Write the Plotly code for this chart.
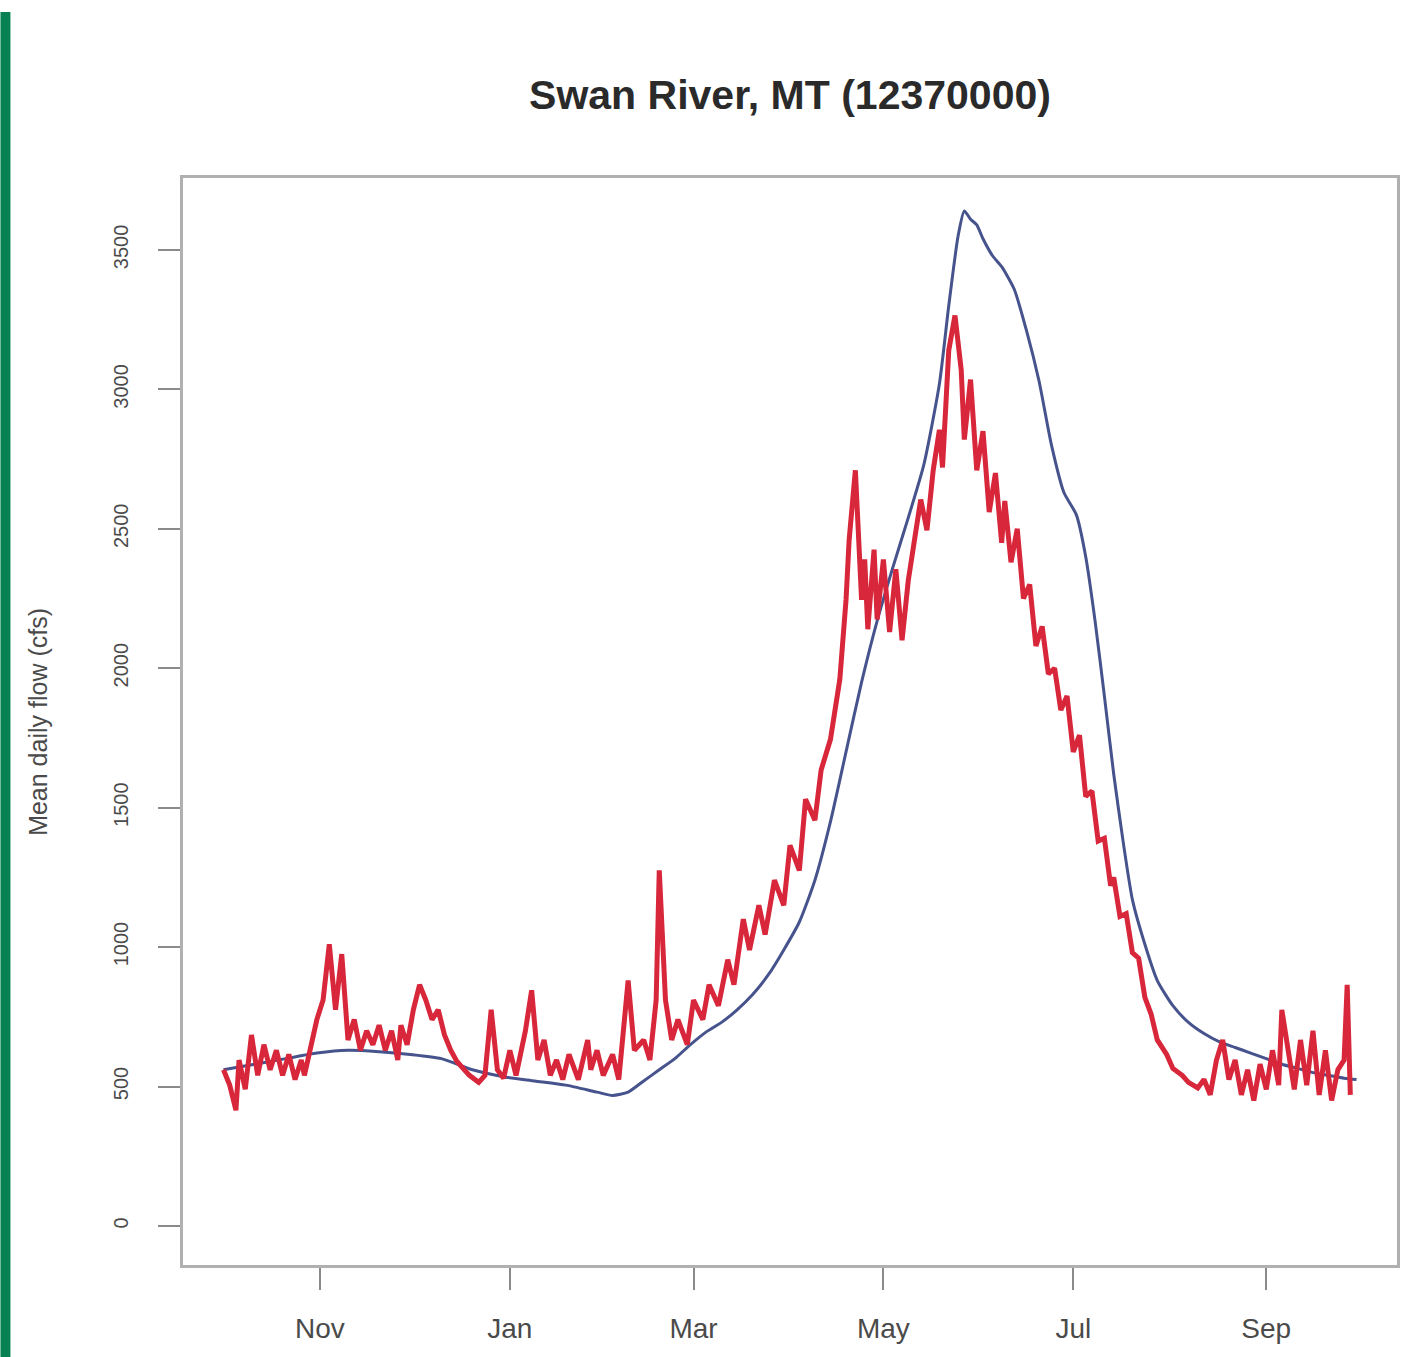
import pandas as pd
import plotly.graph_objects as go

# Water year start; series positions are day offsets from this date
start = pd.Timestamp("2010-10-01")

# Long-term mean daily flow (cfs), smooth hydrograph
mean_days = [0, 10, 20, 30, 40, 50, 60, 70, 80, 90, 100, 110, 120, 125, 130, 135,
             140, 145, 150, 155, 160, 165, 170, 175, 180, 185, 190, 195, 200, 205,
             210, 215, 220, 225, 230, 233, 236, 238, 240, 242, 244, 247, 250, 254,
             258, 262, 266, 270, 274, 277, 280, 283, 286, 289, 292, 296, 300, 305,
             310, 315, 320, 325, 330, 335, 340, 345, 350, 355, 360, 364]
mean_flow = [560, 580, 600, 620, 630, 625, 615, 600, 560, 535, 520, 505, 480, 468, 480, 520,
             560, 600, 650, 695, 730, 775, 830, 900, 990, 1090, 1240, 1450, 1700, 1950,
             2170, 2360, 2540, 2730, 3020, 3300, 3550, 3640, 3610, 3590, 3540, 3480, 3440, 3360,
             3210, 3030, 2800, 2630, 2550, 2400, 2170, 1900, 1620, 1380, 1170, 1010, 880, 790,
             730, 690, 660, 640, 620, 600, 580, 565, 550, 540, 530, 525]

# Observed daily flow for the year (cfs)
obs_days = [0, 2, 4, 5, 7, 9, 11, 13, 15, 17, 19, 21, 23, 25, 26, 28, 30, 32, 34, 36,
            38, 40, 42, 44, 46, 48, 50, 52, 54, 56, 57, 59, 61, 63, 65, 67, 69, 71, 73, 75,
            77, 79, 82, 84, 86, 88, 90, 92, 94, 97, 99, 101, 103, 105, 107, 109, 111, 114, 117, 118,
            120, 122, 125, 127, 130, 132, 135, 137, 139, 140, 142, 144, 146, 149, 151, 154, 156, 159, 162, 164,
            167, 169, 172, 174, 177, 180, 182, 185, 187, 190, 192, 195, 198, 200, 201, 203, 205, 206, 207, 209,
            210, 212, 214, 216, 218, 220, 222, 224, 226, 228, 230, 231, 233, 235, 237, 238, 240, 242, 244, 246,
            248, 250, 251, 253, 255, 257, 259, 261, 263, 265, 267, 269, 271, 273, 275, 277, 279, 281, 283, 285,
            286, 288, 290, 292, 294, 296, 298, 300, 303, 305, 308, 310, 313, 315, 317, 319, 321, 323, 325, 327,
            329, 331, 333, 335, 337, 339, 340, 342, 344, 346, 348, 350, 352, 354, 356, 358, 360, 361, 362]
obs_flow = [560, 505, 415, 595, 490, 685, 540, 650, 560, 630, 540, 615, 525, 595, 540, 650, 740, 810, 1010, 775,
            975, 667, 740, 630, 700, 650, 720, 630, 700, 595, 720, 650, 775, 865, 810, 740, 775, 685, 630, 590,
            565, 540, 515, 540, 775, 560, 530, 630, 540, 700, 845, 595, 667, 540, 595, 525, 615, 525, 667, 560,
            630, 540, 615, 525, 880, 630, 667, 595, 810, 1275, 810, 667, 740, 650, 810, 740, 865, 790, 955, 865,
            1100, 990, 1150, 1045, 1240, 1150, 1365, 1275, 1530, 1455, 1635, 1745, 1960, 2245, 2460, 2710, 2245, 2390, 2140, 2425,
            2175, 2390, 2130, 2355, 2100, 2315, 2460, 2605, 2495, 2710, 2855, 2720, 3140, 3265, 3070, 2820, 3035, 2710, 2850, 2560,
            2700, 2450, 2600, 2380, 2500, 2250, 2300, 2080, 2150, 1980, 2000, 1850, 1900, 1700, 1760, 1540, 1560, 1380, 1390, 1220,
            1250, 1110, 1120, 980, 960, 820, 760, 667, 615, 565, 540, 515, 495, 525, 470, 595, 667, 525, 595, 470,
            560, 450, 580, 490, 630, 505, 775, 630, 490, 667, 505, 700, 470, 630, 450, 560, 595, 865, 470]

# Axis ticks
y_ticks = [0, 500, 1000, 1500, 2000, 2500, 3000, 3500]
x_tick_dates = ["2010-11-01", "2011-01-01", "2011-03-01", "2011-05-01", "2011-07-01", "2011-09-01"]
x_tick_labels = ["Nov", "Jan", "Mar", "May", "Jul", "Sep"]

mean_x = [start + pd.Timedelta(days=d) for d in mean_days]
obs_x = [start + pd.Timedelta(days=d) for d in obs_days]

fig = go.Figure()
fig.add_trace(go.Scatter(x=mean_x, y=mean_flow, mode="lines",
                         line=dict(color="#46538c", width=3, shape="spline", smoothing=0.6),
                         name="Mean", hoverinfo="skip"))
fig.add_trace(go.Scatter(x=obs_x, y=obs_flow, mode="lines",
                         line=dict(color="#d8263a", width=5),
                         name="Observed", hoverinfo="skip"))

tick_font = dict(family="Liberation Sans, Arial, sans-serif", color="#4a4a4a")

fig.update_layout(
    width=1404, height=1357,
    margin=dict(l=183, r=4, t=178, b=92),
    paper_bgcolor="white", plot_bgcolor="white",
    showlegend=False,
    title=dict(text="<b>Swan River, MT (12370000)</b>", x=0.5, xref="paper",
               y=1 - 95 / 1357, yref="container", yanchor="middle", xanchor="center",
               font=dict(family="Liberation Sans, Arial, sans-serif", size=41, color="#2a2a2a")),
    xaxis=dict(
        range=[pd.Timestamp("2010-09-18"), pd.Timestamp("2011-10-13")],
        tickvals=pd.to_datetime(x_tick_dates), ticktext=x_tick_labels,
        ticks="outside", ticklen=22, tickwidth=2, tickcolor="#8a8a8a",
        showgrid=False, zeroline=False,
        showline=True, mirror=True, linecolor="#b0b0b0", linewidth=3,
        tickfont=dict(size=28, **tick_font), ticklabelstandoff=14,
    ),
    yaxis=dict(
        range=[-140, 3758],
        tickvals=y_ticks, ticktext=[str(v) for v in y_ticks],
        ticks="outside", ticklen=22, tickwidth=2, tickcolor="#8a8a8a",
        tickangle=-90,
        showgrid=False, zeroline=False,
        showline=True, mirror=True, linecolor="#b0b0b0", linewidth=3,
        tickfont=dict(size=20, **tick_font), ticklabelstandoff=22,
    ),
    annotations=[dict(text="Mean daily flow (cfs)", xref="paper", yref="paper",
                      x=(37 - 183) / 1217, y=0.5, textangle=-90, showarrow=False,
                      xanchor="center", yanchor="middle",
                      font=dict(family="Liberation Sans, Arial, sans-serif", size=25, color="#4a4a4a"))],
    shapes=[dict(type="rect", xref="paper", yref="paper",
                 x0=(0 - 183) / 1217, x1=(10 - 183) / 1217,
                 y0=(1265 - 1357) / 1087, y1=(1265 - 12) / 1087,
                 fillcolor="#078152", line=dict(width=0), layer="above")],
)

fig.write_html("out.html")
